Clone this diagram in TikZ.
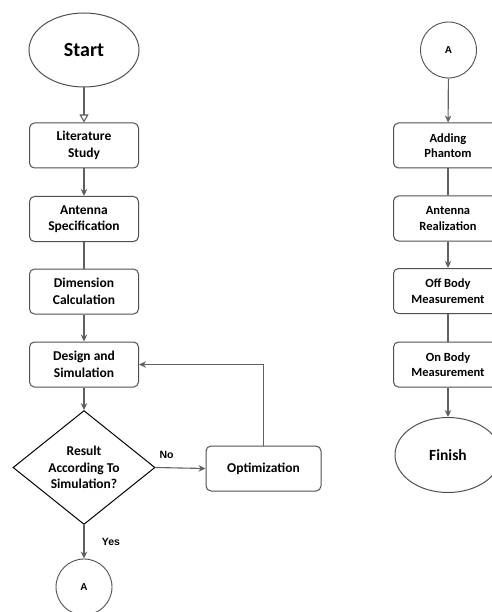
\documentclass[tikz,border=0pt]{standalone}
\usepackage{fontspec}
\setmainfont{Carlito}
\newfontfamily\arialfont{Liberation Sans}
\usetikzlibrary{shapes.geometric,arrows.meta}
\definecolor{linegray}{HTML}{606060}
\definecolor{boxgray}{HTML}{505050}
\tikzset{
  every node/.style={font=\bfseries},
  box/.style={draw=boxgray, line width=1pt, rounded corners=5pt, minimum width=109pt, minimum height=45pt, align=center, inner sep=2pt, font=\fontsize{13.5}{16.5}\selectfont\bfseries},
  rbox/.style={box, font=\fontsize{12.5}{15.5}\selectfont\bfseries},
  term/.style={draw=boxgray, line width=1pt, ellipse, inner sep=0pt},
  conn/.style={draw=boxgray, line width=0.9pt, circle, minimum size=56pt, inner sep=0pt, font=\arialfont\fontsize{10}{12}\selectfont\bfseries},
  decide/.style={draw=black, line width=1pt, diamond, minimum width=142pt, minimum height=109pt, inner sep=0pt, align=center, font=\fontsize{13.5}{16.5}\selectfont\bfseries},
  flow/.style={draw=linegray, line width=1.1pt, -{Stealth[length=7pt,width=6.5pt]}},
  plain/.style={draw=linegray, line width=1.1pt},
  lbl/.style={font=\arialfont\fontsize{10.5}{12}\selectfont\bfseries, inner sep=0pt}
}
\begin{document}
\begin{tikzpicture}[x=1pt,y=-1pt]
\useasboundingbox (0,0) rectangle (491,612);
% left column
\node[term, minimum width=110pt, minimum height=74pt, font=\fontsize{20}{24}\selectfont\bfseries] (start) at (84,50) {Start};
\node[box] (lit) at (84,145.5) {Literature\\Study};
\node[box] (spec) at (84,219) {Antenna\\Specification};
\node[box] (dim) at (84,291.5) {Dimension\\Calculation};
\node[box] (des) at (84,364.5) {Design and\\Simulation};
\node[decide] (dec) at (84,467.5) {Result\\According To\\Simulation?};
\node[box, minimum width=115pt] (opt) at (263.5,468.5) {Optimization};
\node[conn] (a1) at (84,587) {A};
% right column
\node[conn] (a2) at (448.5,50) {A};
\node[rbox] (ph) at (448,145.5) {Adding\\Phantom};
\node[rbox] (re) at (448,218.5) {Antenna\\Realization};
\node[rbox] (off) at (448,291) {Off Body\\Measurement};
\node[rbox] (on) at (448,364.5) {On Body\\Measurement};
\node[term, minimum width=106pt, minimum height=75pt, font=\fontsize{15.5}{19}\selectfont\bfseries] (fin) at (448,455) {Finish};
% connectors left
\draw[plain, -{Triangle[open,length=8pt,width=9pt]}] (start) -- (lit);
\draw[flow] (lit) -- (spec);
\draw[plain] (spec) -- (dim);
\draw[flow] (dim) -- (des);
\draw[flow] (des) -- (dec);
\draw[flow] (dec.east) -- (opt.west);
\draw[flow] (opt.north) |- (des.east);
\draw[flow] (dec.south) -- (a1.north);
\node[lbl] (no) at (166.5,455) {No};
\node[lbl] (yes) at (111,541.5) {Yes};
% connectors right
\draw[flow] (a2) -- (ph);
\draw[plain] (ph) -- (re);
\draw[flow] (re) -- (off);
\draw[plain] (off) -- (on);
\draw[flow] (on) -- (fin);
\end{tikzpicture}
\end{document}
